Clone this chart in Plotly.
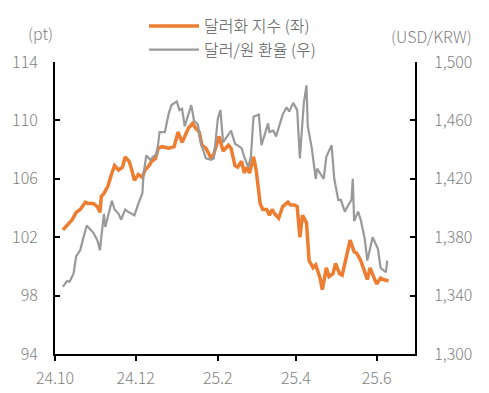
import plotly.graph_objects as go

# ---- data ----
dxy_dates = [
    "2024-10-07", "2024-10-10", "2024-10-14", "2024-10-17", "2024-10-20", "2024-10-24",
    "2024-10-26", "2024-10-30", "2024-11-02", "2024-11-04", "2024-11-05", "2024-11-07",
    "2024-11-10", "2024-11-13", "2024-11-15", "2024-11-18", "2024-11-21", "2024-11-23",
    "2024-11-26", "2024-11-28", "2024-11-30", "2024-12-03", "2024-12-06", "2024-12-08",
    "2024-12-11", "2024-12-13", "2024-12-16", "2024-12-18", "2024-12-21", "2024-12-26",
    "2024-12-30", "2025-01-02", "2025-01-05", "2025-01-07", "2025-01-10", "2025-01-13",
    "2025-01-15", "2025-01-18", "2025-01-20", "2025-01-23", "2025-01-27", "2025-01-29",
    "2025-02-02", "2025-02-05", "2025-02-09", "2025-02-11", "2025-02-14", "2025-02-16",
    "2025-02-19", "2025-02-21", "2025-02-23", "2025-02-25", "2025-02-28", "2025-03-02",
    "2025-03-05", "2025-03-07", "2025-03-10", "2025-03-12", "2025-03-14", "2025-03-16",
    "2025-03-19", "2025-03-22", "2025-03-26", "2025-03-28", "2025-03-31", "2025-04-02",
    "2025-04-04", "2025-04-06", "2025-04-09", "2025-04-11", "2025-04-14", "2025-04-16",
    "2025-04-19", "2025-04-21", "2025-04-24", "2025-04-26", "2025-04-29", "2025-05-01",
    "2025-05-04", "2025-05-06", "2025-05-09", "2025-05-11", "2025-05-12", "2025-05-15",
    "2025-05-17", "2025-05-20", "2025-05-22", "2025-05-25", "2025-05-27", "2025-05-30",
    "2025-06-01", "2025-06-04", "2025-06-06", "2025-06-10",
]
dxy_values = [
    102.5, 102.8, 103.2, 103.7, 103.9, 104.4,
    104.3, 104.3, 104.1, 103.7, 104.8, 105.0,
    105.5, 106.4, 106.9, 106.6, 106.8, 107.5,
    107.2, 106.6, 105.9, 106.3, 106.1, 106.6,
    106.9, 107.2, 107.4, 108.1, 108.2, 108.1,
    108.2, 109.2, 108.5, 108.9, 109.5, 109.8,
    109.5, 109.2, 108.3, 108.1, 107.4, 107.7,
    108.9, 107.9, 108.3, 108.1, 106.9, 106.8,
    107.2, 106.4, 106.8, 106.4, 107.5, 106.6,
    104.3, 103.9, 103.9, 103.5, 103.9, 103.6,
    103.3, 104.1, 104.4, 104.2, 104.2, 104.1,
    102.0, 103.5, 103.0, 100.4, 99.9, 100.1,
    99.3, 98.4, 99.9, 99.3, 99.5, 100.2,
    99.5, 99.4, 100.6, 101.2, 101.8, 101.0,
    100.9, 100.4, 99.9, 99.1, 99.9, 99.3,
    98.8, 99.2, 99.1, 99.0,
]

krw_dates = [
    "2024-10-07", "2024-10-10", "2024-10-12", "2024-10-15", "2024-10-17", "2024-10-20",
    "2024-10-22", "2024-10-25", "2024-10-27", "2024-10-30", "2024-11-02", "2024-11-04",
    "2024-11-05", "2024-11-07", "2024-11-08", "2024-11-10", "2024-11-13", "2024-11-15",
    "2024-11-18", "2024-11-20", "2024-11-23", "2024-11-25", "2024-11-28", "2024-11-30",
    "2024-12-03", "2024-12-06", "2024-12-07", "2024-12-09", "2024-12-12", "2024-12-14",
    "2024-12-17", "2024-12-19", "2024-12-23", "2024-12-26", "2024-12-28", "2025-01-01",
    "2025-01-03", "2025-01-05", "2025-01-07", "2025-01-09", "2025-01-12", "2025-01-14",
    "2025-01-17", "2025-01-19", "2025-01-23", "2025-01-27", "2025-01-29", "2025-02-01",
    "2025-02-03", "2025-02-05", "2025-02-09", "2025-02-11", "2025-02-14", "2025-02-16",
    "2025-02-19", "2025-02-21", "2025-02-24", "2025-02-26", "2025-02-28", "2025-03-04",
    "2025-03-06", "2025-03-09", "2025-03-11", "2025-03-12", "2025-03-15", "2025-03-17",
    "2025-03-20", "2025-03-22", "2025-03-25", "2025-03-27", "2025-03-30", "2025-04-02",
    "2025-04-04", "2025-04-07", "2025-04-09", "2025-04-10", "2025-04-13", "2025-04-15",
    "2025-04-16", "2025-04-17", "2025-04-20", "2025-04-22", "2025-04-24", "2025-04-28",
    "2025-04-30", "2025-05-03", "2025-05-05", "2025-05-08", "2025-05-10", "2025-05-13",
    "2025-05-14", "2025-05-15", "2025-05-18", "2025-05-20", "2025-05-23", "2025-05-25",
    "2025-05-29", "2025-06-02", "2025-06-04", "2025-06-08", "2025-06-09",
]
krw_values = [
    1346, 1350, 1349.5, 1355, 1367, 1371,
    1378, 1388, 1386, 1383, 1378, 1371,
    1380, 1396, 1387, 1394, 1405, 1399,
    1396, 1392, 1399, 1397.5, 1396, 1395,
    1403, 1410, 1424, 1436, 1433, 1435,
    1437, 1452, 1452, 1465, 1470.5, 1473,
    1467, 1468, 1456, 1462.5, 1470.5, 1460,
    1457, 1445, 1434, 1433, 1434, 1461,
    1467, 1445, 1450, 1453, 1444, 1443,
    1441, 1435, 1428, 1435, 1462.5, 1464,
    1443, 1452, 1458, 1452, 1453, 1449,
    1458, 1464, 1469, 1466, 1472, 1467,
    1434, 1472, 1484, 1456, 1441, 1426,
    1420, 1427, 1423, 1420, 1435, 1443,
    1420, 1405.5, 1405.5, 1397.5, 1401, 1405.5,
    1420, 1391, 1397.5, 1392, 1379, 1364,
    1380, 1372, 1359, 1356, 1364,
]

x_tick_vals = ["2024-10-01", "2024-12-01", "2025-02-01", "2025-04-01", "2025-06-01"]
x_tick_text = ["24.10", "24.12", "25.2", "25.4", "25.6"]
left_ticks = [94, 98, 102, 106, 110, 114]
right_ticks = [1300, 1340, 1380, 1420, 1460, 1500]

series_names = ["달러화 지수 (좌)", "달러/원 환율 (우)"]

FONT = "Noto Sans CJK KR"
TXT = "#7f7f7f"

# the page body has an 8px margin, so the figure is 8px smaller and offset
OFF = 8
W, H = 489 - OFF, 393 - OFF
ML, MR, MT, MB = 55 - OFF, 74, 62 - OFF, 39

fig = go.Figure()
# gray first so orange is drawn on top
fig.add_trace(go.Scatter(
    x=krw_dates, y=krw_values, name=series_names[1], mode="lines",
    line=dict(color="#999999", width=2.2), yaxis="y2",
    legendgroup="b", legendrank=2,
))
fig.add_trace(go.Scatter(
    x=dxy_dates, y=dxy_values, name=series_names[0], mode="lines",
    line=dict(color="#ED7D31", width=3.5), yaxis="y",
    legendgroup="a", legendrank=1,
))

fig.update_layout(
    width=W, height=H,
    margin=dict(l=ML, r=MR, t=MT, b=MB, autoexpand=False),
    paper_bgcolor="white", plot_bgcolor="white",
    font=dict(family=FONT, size=16, color=TXT, weight=300),
    showlegend=True,
    legend=dict(
        x=(144 - OFF) / W, y=1 - 1 / H,
        xref="container", yref="container",
        xanchor="left", yanchor="top",
        traceorder="grouped", tracegroupgap=0,
        font=dict(family=FONT, size=16, color="#555555", weight=300),
        bgcolor="rgba(0,0,0,0)", itemwidth=50,
    ),
    xaxis=dict(
        type="date", range=["2024-10-01", "2025-06-30"],
        tickmode="array", tickvals=x_tick_vals, ticktext=x_tick_text,
        tickangle=0,
        showgrid=False, zeroline=False,
        showline=True, linecolor="black", linewidth=2,
        ticks="outside", ticklen=5, tickwidth=2, tickcolor="black",
        ticklabelstandoff=4,
        tickfont=dict(family=FONT, size=16, color=TXT),
    ),
    yaxis=dict(
        range=[94, 114], tickmode="array", tickvals=left_ticks,
        showgrid=False, zeroline=False,
        showline=True, linecolor="black", linewidth=2,
        ticks="inside", ticklen=5, tickwidth=2, tickcolor="black",
        ticklabelstandoff=12,
        tickfont=dict(family=FONT, size=16, color=TXT),
    ),
    yaxis2=dict(
        range=[1300, 1500], tickmode="array", tickvals=right_ticks,
        tickformat=",d", overlaying="y", side="right",
        showgrid=False, zeroline=False,
        showline=True, linecolor="black", linewidth=2,
        ticks="inside", ticklen=5, tickwidth=2, tickcolor="black",
        ticklabelstandoff=14,
        tickfont=dict(family=FONT, size=16, color=TXT),
    ),
)

pw, ph = W - ML - MR, H - MT - MB
def unit_label(text, px, py):
    # px, py are window pixel positions
    fx, fy = px - OFF, py - OFF
    return dict(
        text=text, x=(fx - ML) / pw, y=1 - (fy - MT) / ph,
        xref="paper", yref="paper", showarrow=False,
        xanchor="center", yanchor="middle",
        font=dict(family=FONT, size=16, color=TXT, weight=300),
    )

fig.update_layout(annotations=[
    unit_label("(pt)", 40, 33),
    unit_label("(USD/KRW)", 431, 36),
])

fig.write_html("out.html")
